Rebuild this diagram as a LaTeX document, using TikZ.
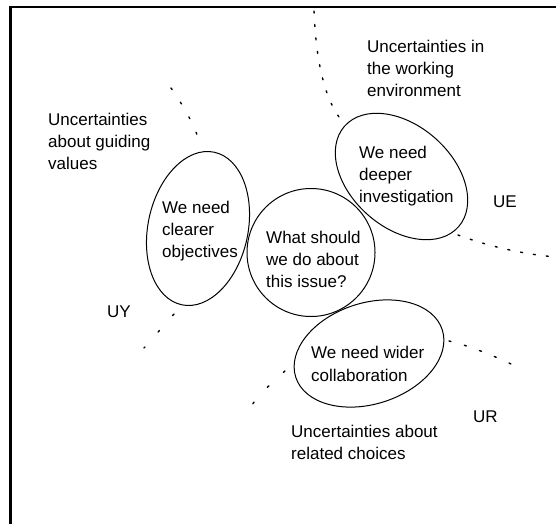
\documentclass[tikz,border=0pt]{standalone}
\usepackage{fontspec}
\setmainfont{Liberation Sans}
\usetikzlibrary{shapes.geometric}
\begin{document}
\begin{tikzpicture}[x=1pt,y=-1pt,
  ell/.style={draw, line width=1pt, ellipse, inner sep=0pt},
  txt/.style={anchor=base west, align=left, inner sep=0pt,
    font=\fontsize{17}{22}\selectfont},
  lbl/.style={anchor=base west, inner sep=0pt, font=\fontsize{17}{22}\selectfont},
  bound/.style={line width=1.4pt, line cap=round},
  frameline/.style={line width=2.6pt}]
\useasboundingbox (0,0) rectangle (556,524);
\fill[white] (0,0) rectangle (556,524);

% frame (top and left)
\coordinate (fTR) at (556,7);
\coordinate (fTL) at (10.5,7);
\coordinate (fBL) at (10.5,524);
\draw[frameline] (fTR) -- (fTL) -- (fBL);

% ellipses
\node[ell, minimum width=100pt, minimum height=156pt, rotate=-12] (obj) at (198,228.5) {};
\node[ell, circle, minimum size=128pt] (issue) at (311,252.5) {};
\node[ell, minimum width=152pt, minimum height=102pt, rotate=-41.5] (inv) at (401.5,176.5) {};
\node[ell, minimum width=154pt, minimum height=101pt, rotate=18] (col) at (369,353.5) {};

% texts in ellipses (anchor = baseline of last line)
\node[txt] (tobj) at (162,257) {We need\\clearer\\objectives};
\node[txt] (tissue) at (266,287) {What should\\we do about\\this issue?};
\node[txt] (tinv) at (359,202) {We need\\deeper\\investigation};
\node[txt, font=\fontsize{17}{23}\selectfont] (tcol) at (311,381) {We need wider\\collaboration};

% outer texts
\node[txt] (uguide) at (48,169) {Uncertainties\\about guiding\\values};
\node[txt] (uwork) at (367,97) {Uncertainties in\\the working\\environment};
\node[txt] (urel) at (291,459) {Uncertainties about\\related choices};
\node[lbl] (UY) at (107,317) {UY};
\node[lbl] (UE) at (493,207) {UE};
\node[lbl] (UR) at (473,422) {UR};

% dotted boundaries
\coordinate (ueA) at (314,11);
\coordinate (ueB) at (339,117);
\draw[bound, dash pattern=on 2pt off 11.5pt] (ueA) .. controls (316,60) and (324,96) .. (ueB);
\coordinate (ueC) at (458,235);
\coordinate (ueD) at (556,257);
\draw[bound, dash pattern=on 2pt off 11pt] (ueC) .. controls (485,245) and (520,254) .. (ueD);
\coordinate (uyA) at (171,88);
\coordinate (uyB) at (199,140);
\draw[bound, dash pattern=on 2pt off 15pt] (uyA) .. controls (182,104) and (192,120) .. (uyB);
\coordinate (uyC) at (174,314);
\coordinate (uyD) at (144,348);
\draw[bound, dash pattern=on 2pt off 20pt] (uyC) -- (uyD);
\coordinate (urA) at (449,341);
\coordinate (urB) at (511,364);
\draw[bound, dash pattern=on 2pt off 14pt] (urA) .. controls (470,346) and (492,355) .. (urB);
\coordinate (urC) at (285,371);
\coordinate (urD) at (252,405);
\draw[bound, dash pattern=on 2pt off 20pt] (urC) .. controls (275,380) and (260,393) .. (urD);
\end{tikzpicture}
\end{document}
